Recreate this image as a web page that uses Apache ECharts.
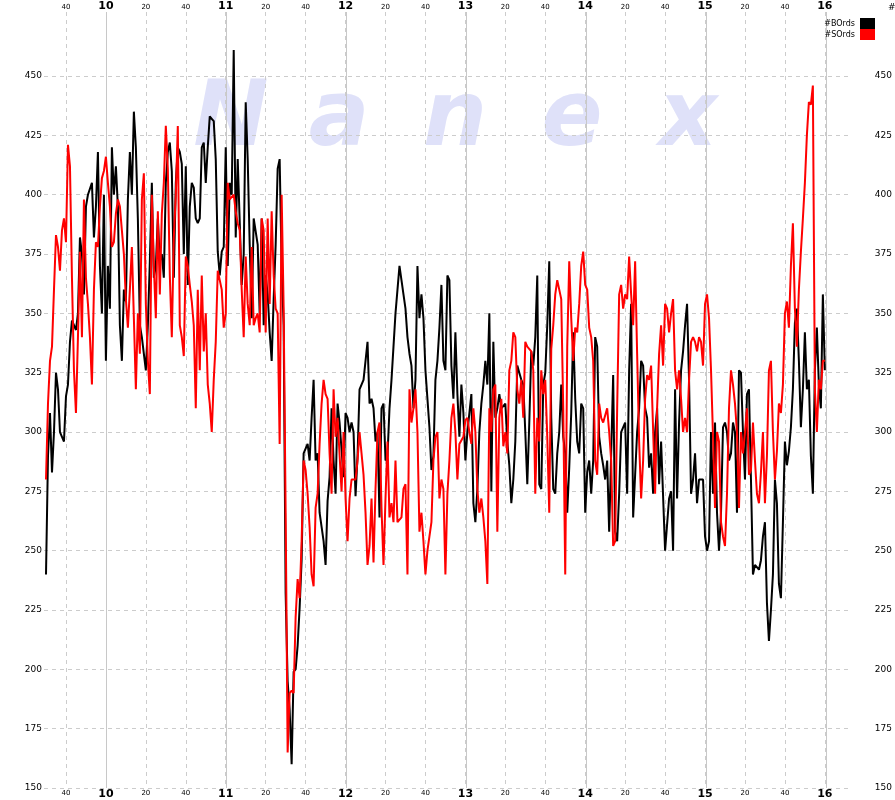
<!DOCTYPE html>
<html><head><meta charset="utf-8">
<script src="https://cdn.jsdelivr.net/npm/echarts@6/dist/echarts.min.js"></script>
<style>html,body{margin:0;padding:0;background:#fff}#c{width:895px;height:800px}</style>
</head><body><div id="c"></div>
<script>
// minute-by-minute values starting 9:30
const startMinute = 570;
const bOrds = [240,290,308,283,300,325,318,300,298,296,
315,320,338,347,345,343,350,382,375,358,
395,400,400,405,382,395,418,370,350,400,
330,370,352,420,400,412,395,345,330,360,
355,398,418,400,435,420,390,345,340,340,
326,345,372,405,365,370,390,372,375,365,
405,418,422,410,365,405,420,418,413,375,
412,362,395,405,403,390,388,390,420,422,
405,420,433,432,431,415,376,366,376,378,
420,370,405,400,461,382,415,415,362,375,
439,415,379,348,390,390,379,350,390,345,
366,358,342,330,356,379,411,415,370,345,
232,195,183,160,199,200,210,226,246,291,
291,295,288,306,322,288,291,266,260,254,
244,271,281,310,288,274,312,304,304,281,
308,306,300,304,300,273,290,318,320,322,
330,338,312,314,310,296,300,264,310,312,
288,290,310,322,336,350,360,370,364,358,
352,340,333,328,310,322,370,348,358,348,
326,326,302,284,290,322,330,344,362,330,
326,366,364,328,314,342,316,298,320,308,
288,300,308,316,270,262,276,300,312,320,
330,320,350,275,338,306,310,316,310,310,
312,296,286,270,280,296,328,325,322,320,
300,278,304,334,328,340,366,278,276,320,
325,345,372,306,276,274,291,300,320,298,
291,266,285,308,342,314,296,291,312,310,
266,283,288,274,288,340,336,298,291,286,
280,288,258,291,324,258,254,274,300,300,
304,274,326,354,264,282,300,310,330,328,
310,306,285,291,274,300,310,278,296,296,
250,250,272,275,250,318,272,304,326,334,
345,354,322,274,280,291,270,280,280,280,
256,250,254,300,274,304,266,250,266,302,
304,300,288,291,304,300,266,326,325,300,
280,316,318,280,240,244,244,242,246,256,
262,228,212,225,240,280,270,236,230,262,
296,286,292,302,318,346,352,330,302,318,
342,318,322,290,274,326,344,320,310,358,
326];
const sOrds = [280,312,330,336,360,383,378,368,385,390,
380,421,412,365,326,308,340,376,340,398,
365,354,340,320,360,380,378,395,407,410,
416,405,395,378,380,392,398,395,385,375,
356,344,360,378,348,318,350,333,398,409,
354,330,316,400,370,348,393,358,392,405,
429,411,366,340,382,400,429,345,340,332,
374,370,362,355,345,310,360,326,366,334,
350,320,312,300,322,338,368,364,360,344,
350,405,398,398,400,393,388,385,360,340,
374,354,345,378,345,348,350,342,390,385,
342,390,354,393,366,352,350,295,400,352,
266,165,190,191,190,222,238,230,254,288,
284,274,260,240,235,268,274,295,312,322,
316,314,291,274,318,298,306,306,275,300,
272,254,272,280,280,280,288,300,291,282,
266,244,252,272,245,276,300,304,268,244,
272,296,264,270,262,288,262,262,264,276,
278,240,318,304,310,318,300,258,266,254,
240,250,250,262,288,298,300,272,280,276,
240,274,288,306,312,300,280,295,295,298,
305,306,300,295,310,300,276,266,272,264,
254,236,310,300,318,320,258,306,314,294,
300,291,326,330,342,340,318,312,322,306,
338,336,336,334,326,274,306,296,326,316,
322,298,266,335,345,358,364,364,356,310,
240,336,372,348,330,344,342,354,370,376,
362,360,344,340,330,288,282,312,306,304,
304,310,300,288,252,254,310,358,362,352,
358,356,374,358,345,372,333,296,272,288,
314,324,322,328,328,274,310,333,345,328,
354,352,342,350,356,326,318,326,314,300,
306,300,322,338,340,338,334,340,338,328,
354,358,348,326,298,268,300,296,262,256,
252,274,310,326,320,312,300,268,300,291,
300,310,282,284,304,288,274,270,283,300,
270,290,326,330,300,280,292,312,308,320,
350,355,344,370,388,352,336,360,376,390,
405,425,439,438,446,318,300,322,318,330,
330];
const minorTicks = [580,620,640,680,700,740,760,800,820,860,880,920,940];
const hourTicks = [600,660,720,780,840,900,960];
const yTicks = [150,175,200,225,250,275,300,325,350,375,400,425,450];
const seriesNames = ['#BOrds','#SOrds'];
const watermarkLetters = ['N','a','n','e','x'];

const FONT = '"DejaVu Sans", Verdana, sans-serif';
const allTicks = minorTicks.concat(hourTicks).sort((a,b)=>a-b);
const times = bOrds.map((_, i) => startMinute + i);
const X_MIN = 569, X_MAX = 972, Y_MIN = 150, Y_MAX = 477;
const fmt = v => hourTicks.indexOf(v) >= 0 ? '{h|' + (v/60) + '}' : '{s|' + (v % 60) + '}';

const gridRect = {left: 44, right: 45, top: 12, bottom: 12};
const chart = echarts.init(document.getElementById('c'), null, {renderer: 'canvas'});

const wmX = [231, 339, 455, 572, 688];

chart.setOption({
  animation: false,
  backgroundColor: '#fff',
  grid: [Object.assign({}, gridRect), Object.assign({}, gridRect)],
  xAxis: [
    {type: 'value', gridIndex: 0, position: 'bottom', min: X_MIN, max: X_MAX,
     axisLine: {show: false}, axisTick: {show: false, customValues: allTicks},
     axisLabel: {customValues: allTicks, formatter: fmt, margin: 1,
       rich: {h: {fontSize: 11, fontWeight: 'bold', fontFamily: FONT, color: '#000', lineHeight: 11},
              s: {fontSize: 7, fontFamily: FONT, color: '#000', lineHeight: 7, padding: [2,0,0,0]}}},
     splitLine: {show: true, lineStyle: {color: '#cccccc', width: 1, type: [4,4]}}},
    {type: 'value', gridIndex: 0, position: 'top', min: X_MIN, max: X_MAX,
     axisLine: {show: false}, axisTick: {show: false, customValues: allTicks},
     axisLabel: {customValues: allTicks, formatter: fmt, margin: 0,
       rich: {h: {fontSize: 11, fontWeight: 'bold', fontFamily: FONT, color: '#000', lineHeight: 11},
              s: {fontSize: 7, fontFamily: FONT, color: '#000', lineHeight: 7, padding: [0,0,3,0]}}},
     splitLine: {show: false}},
    {type: 'value', gridIndex: 1, position: 'bottom', min: X_MIN, max: X_MAX,
     axisLine: {show: false}, axisTick: {show: false, customValues: hourTicks},
     axisLabel: {show: false},
     splitLine: {show: true, lineStyle: {color: '#c8c8c8', width: 1, type: 'solid'}}}
  ],
  yAxis: [
    {type: 'value', gridIndex: 0, position: 'left', min: Y_MIN, max: Y_MAX,
     axisLine: {show: false}, axisTick: {show: false, customValues: yTicks},
     axisLabel: {customValues: yTicks, fontSize: 9, fontFamily: FONT, color: '#000', margin: 2},
     splitLine: {show: true, lineStyle: {color: '#cccccc', width: 1, type: [4,4]}}},
    {type: 'value', gridIndex: 0, position: 'right', min: Y_MIN, max: Y_MAX,
     axisLine: {show: false}, axisTick: {show: false, customValues: yTicks},
     axisLabel: {customValues: yTicks, fontSize: 9, fontFamily: FONT, color: '#000', margin: 26},
     splitLine: {show: false}},
    {type: 'value', gridIndex: 1, min: Y_MIN, max: Y_MAX, show: false, splitLine: {show: false}}
  ],
  legend: {
    data: seriesNames, orient: 'vertical', right: 20, top: 18, padding: 0,
    itemGap: 0, itemWidth: 15, itemHeight: 11, align: 'right', icon: 'rect',
    textStyle: {fontSize: 8, fontFamily: FONT, color: '#000'}
  },
  graphic: {
    elements: watermarkLetters.map((ch, i) => ({
      type: 'text', x: wmX[i], y: 122, z: -10, silent: true,
      style: {text: ch, fill: '#dfe1f9', font: 'italic bold 90px ' + FONT, align: 'center', verticalAlign: 'middle'}
    })).concat([{
      type: 'text', x: 888, y: 3, silent: true,
      style: {text: '#', fill: '#000', font: '9px ' + FONT}
    }])
  },
  series: [
    {name: seriesNames[0], type: 'line', xAxisIndex: 0, yAxisIndex: 0,
     data: bOrds.map((v, i) => [times[i], v]), showSymbol: false, symbol: 'none',
     lineStyle: {color: '#000000', width: 2}, itemStyle: {color: '#000000'}, z: 3},
    {name: seriesNames[1], type: 'line', xAxisIndex: 0, yAxisIndex: 0,
     data: sOrds.map((v, i) => [times[i], v]), showSymbol: false, symbol: 'none',
     lineStyle: {color: '#ff0000', width: 2}, itemStyle: {color: '#ff0000'}, z: 4}
  ]
});
</script></body></html>
